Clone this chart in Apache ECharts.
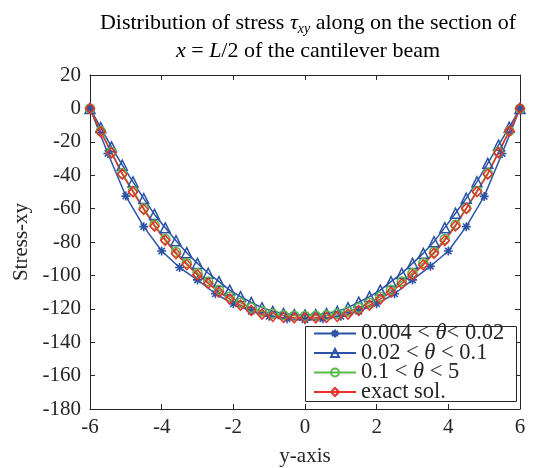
<!DOCTYPE html>
<html>
<head>
<meta charset="utf-8">
<script src="https://cdn.jsdelivr.net/npm/echarts@6/dist/echarts.min.js"></script>
<style>
html,body{margin:0;padding:0;background:#fff;}
#chart{width:537px;height:468px;}
</style>
</head>
<body>
<div id="chart"></div>
<script>
// ---- data ----
var xFine = [-6, -5.7, -5.4, -5.1, -4.8, -4.5, -4.2, -3.9, -3.6, -3.3, -3, -2.7, -2.4, -2.1, -1.8, -1.5, -1.2, -0.9, -0.6, -0.3, 0,
             0.3, 0.6, 0.9, 1.2, 1.5, 1.8, 2.1, 2.4, 2.7, 3, 3.3, 3.6, 3.9, 4.2, 4.5, 4.8, 5.1, 5.4, 5.7, 6];
var xCoarse = [-6, -5.5, -5, -4.5, -4, -3.5, -3, -2.5, -2, -1.5, -1, -0.5, 0,
               0.5, 1, 1.5, 2, 2.5, 3, 3.5, 4, 4.5, 5, 5.5, 6];

var starVals = [0, -27, -52.5, -70.8, -85.4, -95.3, -102.7, -111, -117, -121.5, -124.5, -126, -126.5,
                -126, -124.5, -121.5, -117, -111, -102.7, -94.5, -85.4, -70.8, -52.7, -27, 0];
var triVals = [0, -11.5, -23, -34, -44, -54, -63.5, -71.5, -79.2, -86.4, -92.8, -98.7, -103.7, -108.8, -112.7, -116.2, -119.3, -121.5, -122.8, -123.5, -123.7,
               -123.5, -122.8, -121.5, -119.3, -116, -112.7, -108.8, -103.7, -98.8, -92.8, -86.8, -79.8, -71.4, -62.8, -53.8, -43.9, -32.9, -22, -11.3, 0];
var greenVals = [0, -13.6, -26.2, -38.8, -49.4, -59.8, -69.6, -78.2, -86, -92.6, -98.6, -103.6, -108.6, -112.8, -116.4, -119.4, -121.6, -123, -123.8, -124.2, -124.3,
                 -124.2, -123.8, -123, -121.6, -119.4, -116.4, -112.8, -108.6, -103.6, -98.6, -92.6, -86, -78.2, -69.6, -59.8, -49.4, -38.8, -26.2, -13.6, 0];
var exactVals = [0, -14, -26.6, -39.4, -50, -60.5, -70.5, -79, -87, -93.5, -99.7, -104.8, -110, -114.2, -117.8, -121, -123.2, -124.6, -125.2, -125.4, -125.5,
                 -125.4, -125.2, -124.6, -123.2, -121, -117.8, -114.2, -110, -105, -99.7, -93.7, -86.8, -79.2, -70.4, -59.9, -49.9, -39.3, -26.5, -13.6, 0];

var seriesNames = ['0.004 < θ< 0.02', '0.02 < θ < 0.1', '0.1 < θ < 5', 'exact sol.'];
var xTicks = {min: -6, max: 6, interval: 2};
var yTicks = {min: -180, max: 20, interval: 20};

function pairs(xs, ys) { return xs.map(function (x, i) { return [x, ys[i]]; }); }

var BLUE = '#2c52a5', GREEN = '#57b947', RED = '#e8302b', AX = '#262626';
var FONT = '"Liberation Serif", "Times New Roman", serif';

var chart = echarts.init(document.getElementById('chart'), null, {renderer: 'canvas'});

function axisCommon(showLabel, margin) {
  return {
    axisLine: {show: true, onZero: false, lineStyle: {color: AX, width: 1}},
    axisTick: {show: true, inside: true, length: 5, lineStyle: {color: AX, width: 1}},
    splitLine: {show: false},
    axisLabel: {show: showLabel, fontSize: 21, fontFamily: FONT, color: AX, margin: margin || 9}
  };
}

var option = {
  backgroundColor: '#fff',
  animation: false,
  title: [
    {
      text: 'Distribution of stress {i|τ}{sub|xy} along on the section of',
      left: 303, top: 5, textAlign: 'center',
      textStyle: {fontSize: 22, fontFamily: FONT, fontWeight: 'normal', color: '#000', lineHeight: 26,
        rich: {
          i: {fontSize: 22, fontStyle: 'italic', fontFamily: FONT, color: '#000', lineHeight: 26},
          sub: {fontSize: 14, fontStyle: 'italic', fontFamily: FONT, color: '#000', verticalAlign: 'bottom', lineHeight: 15}
        }}
    },
    {
      text: '{i|x} = {i|L}/2 of the cantilever beam',
      left: 303, top: 33, textAlign: 'center',
      textStyle: {fontSize: 22, fontFamily: FONT, fontWeight: 'normal', color: '#000', lineHeight: 26,
        rich: {i: {fontSize: 22, fontStyle: 'italic', fontFamily: FONT, color: '#000', lineHeight: 26}}}
    }
  ],
  grid: {left: 90, right: 17, top: 75, bottom: 59, containLabel: false, outerBoundsMode: 'none'},
  graphic: [
    {type: 'rect', z: 3, shape: {x: 305.5, y: 326.5, width: 211, height: 75},
     style: {fill: '#fff', stroke: AX, lineWidth: 1}}
  ],
  legend: {
    z: 5,
    orient: 'vertical',
    left: 305, top: 322,
    padding: [0, 10, 0, 8],
    itemGap: -3.5,
    itemWidth: 42, itemHeight: 10,
    data: seriesNames,
    formatter: function (name) {
      return name.replace('θ', '{i|θ}');
    },
    textStyle: {fontSize: 22.5, fontFamily: FONT, color: AX,
      rich: {i: {fontSize: 22.5, fontStyle: 'italic', fontFamily: FONT, color: AX}}}
  },
  xAxis: [
    Object.assign({type: 'value', position: 'bottom', min: xTicks.min, max: xTicks.max, interval: xTicks.interval,
      name: 'y-axis', nameLocation: 'middle', nameGap: 37,
      nameTextStyle: {fontSize: 21, fontFamily: FONT, color: AX}}, axisCommon(true, 8)),
    Object.assign({type: 'value', position: 'top', min: xTicks.min, max: xTicks.max, interval: xTicks.interval}, axisCommon(false))
  ],
  yAxis: [
    Object.assign({type: 'value', position: 'left', min: yTicks.min, max: yTicks.max, interval: yTicks.interval,
      name: 'Stress-xy', nameLocation: 'middle', nameGap: 58,
      nameTextStyle: {fontSize: 21, fontFamily: FONT, color: AX}}, axisCommon(true, 9)),
    Object.assign({type: 'value', position: 'right', min: yTicks.min, max: yTicks.max, interval: yTicks.interval}, axisCommon(false))
  ],
  series: [
    {
      name: seriesNames[0], type: 'line', xAxisIndex: 0, yAxisIndex: 0,
      data: pairs(xCoarse, starVals),
      symbol: 'path://M0,-10L0,10M-10,0L10,0M-7.07,-7.07L7.07,7.07M-7.07,7.07L7.07,-7.07',
      symbolSize: 9,
      lineStyle: {color: BLUE, width: 1.5},
      itemStyle: {color: BLUE, borderColor: BLUE, borderWidth: 1.6},
      showAllSymbol: true
    },
    {
      name: seriesNames[1], type: 'line', xAxisIndex: 0, yAxisIndex: 0,
      data: pairs(xFine, triVals),
      symbol: 'triangle', symbolSize: 10,
      lineStyle: {color: BLUE, width: 1.5},
      itemStyle: {color: 'rgba(255,255,255,0)', borderColor: BLUE, borderWidth: 1.5},
      showAllSymbol: true
    },
    {
      name: seriesNames[2], type: 'line', xAxisIndex: 0, yAxisIndex: 0,
      data: pairs(xFine, greenVals),
      symbol: 'circle', symbolSize: 9,
      lineStyle: {color: GREEN, width: 1.5},
      itemStyle: {color: 'rgba(255,255,255,0)', borderColor: GREEN, borderWidth: 1.5},
      showAllSymbol: true
    },
    {
      name: seriesNames[3], type: 'line', xAxisIndex: 0, yAxisIndex: 0,
      data: pairs(xFine, exactVals),
      symbol: 'path://M0,-10L9,0L0,10L-9,0Z', symbolSize: [9, 10],
      lineStyle: {color: RED, width: 1.5},
      itemStyle: {color: 'rgba(255,255,255,0)', borderColor: RED, borderWidth: 1.5},
      showAllSymbol: true
    }
  ]
};
chart.setOption(option);
</script>
</body>
</html>
